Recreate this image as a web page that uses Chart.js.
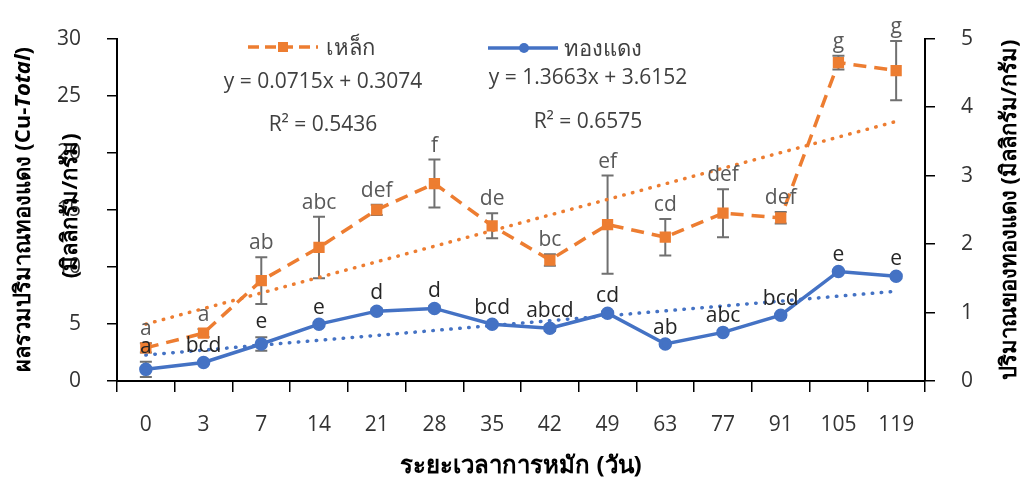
<!DOCTYPE html>
<html>
<head>
<meta charset="utf-8">
<script src="https://cdn.jsdelivr.net/npm/chart.js@4.4.1/dist/chart.umd.min.js"></script>
<style>
html,body{margin:0;padding:0;background:#fff;}
#wrap{width:1023px;height:480px;position:relative;}
</style>
</head>
<body>
<div id="wrap"><canvas id="c" width="1023" height="480"></canvas></div>
<script>
const categories = ['0','3','7','14','21','28','35','42','49','63','77','91','105','119'];
const ironValues  = [2.9, 4.2, 8.8, 11.7, 15.0, 17.3, 13.6, 10.6, 13.7, 12.6, 14.7, 14.3, 27.9, 27.2];
const ironErrors  = [0.4, 0.35, 2.05, 2.7, 0.45, 2.1, 1.1, 0.5, 4.3, 1.6, 2.1, 0.5, 0.6, 2.6];
const ironLetters = ['a','a','ab','abc','def','f','de','bc','ef','cd','def','def','g','g'];
const copperValues  = [0.17, 0.27, 0.54, 0.83, 1.02, 1.06, 0.83, 0.77, 0.99, 0.54, 0.71, 0.96, 1.60, 1.53];
const copperErrors  = [0.11, 0.02, 0.1, 0.02, 0.04, 0.04, 0.02, 0.04, 0.03, 0.02, 0.02, 0.02, 0.02, 0.03];
const copperLetters = ['a','bcd','e','e','d','d','bcd','abcd','cd','ab','abc','bcd','e','e'];
const ironTrendEnds   = [4.98, 22.74];
const copperTrendEnds = [0.38, 1.31];
const leftTicks  = [0, 5, 10, 15, 20, 25, 30];
const rightTicks = [0, 1, 2, 3, 4, 5];
const ironName = 'เหล็ก';
const copperName = 'ทองแดง';
const eqTexts = [
  {t:'y = 0.0715x + 0.3074', x:323, y:88},
  {t:'R² = 0.5436', x:323, y:131},
  {t:'y = 1.3663x + 3.6152', x:588, y:84},
  {t:'R² = 0.6575', x:588, y:128}
];

const ORANGE = '#ED7D31', BLUE = '#4472C4';
const FONT = "'Open Sans','Noto Sans',sans-serif";

const overlay = {
  id: 'overlay',
  beforeDatasetsDraw(chart) {
    const ctx = chart.ctx, xs = chart.scales.x;
    const sets = [[ironValues, ironErrors, chart.scales.y], [copperValues, copperErrors, chart.scales.y1]];
    ctx.save();
    ctx.strokeStyle = '#707070';
    ctx.lineWidth = 2;
    sets.forEach(([vals, errs, ys]) => {
      vals.forEach((v, i) => {
        const px = xs.getPixelForValue(i);
        const t = ys.getPixelForValue(v + errs[i]);
        const b = ys.getPixelForValue(v - errs[i]);
        ctx.beginPath();
        ctx.moveTo(px, t); ctx.lineTo(px, b);
        ctx.moveTo(px - 6, t); ctx.lineTo(px + 6, t);
        ctx.moveTo(px - 6, b); ctx.lineTo(px + 6, b);
        ctx.stroke();
      });
    });
    ctx.restore();
  },
  afterDraw(chart) {
    const ctx = chart.ctx, xs = chart.scales.x, ca = chart.chartArea;
    ctx.save();
    // letters
    ctx.textAlign = 'center';
    ctx.textBaseline = 'alphabetic';
    ctx.font = '21px ' + FONT;
    ctx.fillStyle = '#595959';
    ironValues.forEach((v, i) => {
      const px = xs.getPixelForValue(i);
      const t = chart.scales.y.getPixelForValue(v + ironErrors[i]);
      ctx.fillText(ironLetters[i], px, t - 8);
    });
    ctx.fillStyle = '#262626';
    copperValues.forEach((v, i) => {
      const px = xs.getPixelForValue(i);
      const t = chart.scales.y1.getPixelForValue(v + copperErrors[i]);
      ctx.fillText(copperLetters[i], px, t - 9);
    });
    // legend
    const ds = chart.data.datasets;
    ctx.lineWidth = 3.5;
    ctx.strokeStyle = ds[0].borderColor;
    ctx.setLineDash([11, 6]);
    ctx.beginPath(); ctx.moveTo(248, 47); ctx.lineTo(318, 47); ctx.stroke();
    ctx.setLineDash([]);
    ctx.fillStyle = ds[0].borderColor;
    ctx.fillRect(278, 42, 10, 10);
    ctx.strokeStyle = ds[1].borderColor;
    ctx.beginPath(); ctx.moveTo(488, 48); ctx.lineTo(558, 48); ctx.stroke();
    ctx.fillStyle = ds[1].borderColor;
    ctx.beginPath(); ctx.arc(524, 48, 5, 0, Math.PI * 2); ctx.fill();
    ctx.fillStyle = '#404040';
    ctx.textAlign = 'left';
    ctx.font = '22px ' + FONT;
    ctx.fillText(ds[0].label, 326, 55);
    ctx.fillText(ds[1].label, 564, 56);
    // equations
    ctx.textAlign = 'center';
    ctx.font = '21px ' + FONT;
    eqTexts.forEach(e => ctx.fillText(e.t, e.x, e.y));
    // axis titles
    ctx.fillStyle = '#000';
    const fB = 'bold 22px ' + FONT, fI = 'italic bold 22px ' + FONT;
    const cy = (ca.top + ca.bottom) / 2;
    ctx.save();
    ctx.translate(30, cy);
    ctx.rotate(-Math.PI / 2);
    const p1 = 'ผลรวมปริมาณทองแดง (Cu-', p2 = 'Total', p3 = ')';
    ctx.font = fB; const w1 = ctx.measureText(p1).width, w3 = ctx.measureText(p3).width;
    ctx.font = fI; const w2 = ctx.measureText(p2).width;
    const sx = -(w1 + w2 + w3) / 2;
    ctx.textAlign = 'left';
    ctx.font = fB; ctx.fillText(p1, sx, 0);
    ctx.font = fI; ctx.fillText(p2, sx + w1, 0);
    ctx.font = fB; ctx.fillText(p3, sx + w1 + w2, 0);
    ctx.restore();
    ctx.save();
    ctx.translate(77, cy - 4);
    ctx.rotate(-Math.PI / 2);
    ctx.textAlign = 'center';
    ctx.font = fB;
    ctx.fillText('(มิลลิกรัม/กรัม)', 0, 0);
    ctx.restore();
    ctx.save();
    ctx.translate(1016, cy);
    ctx.rotate(-Math.PI / 2);
    ctx.textAlign = 'center';
    ctx.font = fB;
    ctx.fillText('ปริมาณของทองแดง (มิลลิกรัม/กรัม)', 0, 0);
    ctx.restore();
    ctx.textAlign = 'center';
    ctx.font = 'bold 24px ' + FONT;
    ctx.fillText('ระยะเวลาการหมัก (วัน)', (ca.left + ca.right) / 2, 473);
    ctx.restore();
  }
};

const axisGrid = {display: true, drawOnChartArea: false, drawTicks: true, tickLength: 10, color: '#000', lineWidth: 1.5};
const axisBorder = {display: true, color: '#000', width: 2};
const tickFont = {family: FONT, size: 21};

new Chart(document.getElementById('c'), {
  type: 'line',
  data: {
    labels: categories,
    datasets: [
      {label: ironName, data: ironValues, yAxisID: 'y', borderColor: ORANGE, backgroundColor: ORANGE,
       borderWidth: 3.5, borderDash: [13, 8], pointStyle: 'rect', pointRadius: 5.5, pointHoverRadius: 5.5, order: 1},
      {label: copperName, data: copperValues, yAxisID: 'y1', borderColor: BLUE, backgroundColor: BLUE,
       borderWidth: 3.5, pointStyle: 'circle', pointRadius: 5, pointHoverRadius: 5, order: 0},
      {label: 'trend ' + ironName, data: [{x: categories[0], y: ironTrendEnds[0]}, {x: categories[categories.length - 1], y: ironTrendEnds[1]}],
       yAxisID: 'y', borderColor: ORANGE, borderWidth: 3.5, borderDash: [0.5, 8.5], borderCapStyle: 'round', pointRadius: 0, order: 3},
      {label: 'trend ' + copperName, data: [{x: categories[0], y: copperTrendEnds[0]}, {x: categories[categories.length - 1], y: copperTrendEnds[1]}],
       yAxisID: 'y1', borderColor: BLUE, borderWidth: 3.5, borderDash: [0.5, 8.5], borderCapStyle: 'round', pointRadius: 0, order: 2}
    ]
  },
  options: {
    responsive: false,
    animation: false,
    events: [],
    layout: {padding: {top: 37, left: 0, right: 0, bottom: 0}},
    plugins: {legend: {display: false}, tooltip: {enabled: false}},
    scales: {
      x: {
        type: 'category', offset: true,
        grid: Object.assign({}, axisGrid, {offset: true, tickLength: 11}),
        border: axisBorder,
        ticks: {font: tickFont, color: '#333', padding: 20, maxRotation: 0, autoSkip: false},
        afterFit(s) { s.height = 99; }
      },
      y: {
        position: 'left', min: 0, max: 30,
        afterBuildTicks(s) { s.ticks = leftTicks.map(v => ({value: v})); },
        grid: axisGrid, border: axisBorder,
        ticks: {font: tickFont, color: '#333', padding: 26, autoSkip: false},
        afterFit(s) { s.width = 117; }
      },
      y1: {
        position: 'right', min: 0, max: 5,
        afterBuildTicks(s) { s.ticks = rightTicks.map(v => ({value: v})); },
        grid: axisGrid, border: axisBorder,
        ticks: {font: tickFont, color: '#333', padding: 26, autoSkip: false},
        afterFit(s) { s.width = 98; }
      }
    }
  },
  plugins: [overlay]
});
</script>
</body>
</html>
